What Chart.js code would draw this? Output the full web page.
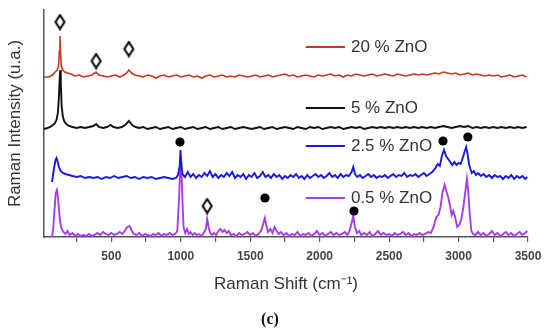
<!DOCTYPE html>
<html>
<head>
<meta charset="utf-8">
<script src="https://cdn.jsdelivr.net/npm/chart.js@4.4.1/dist/chart.umd.min.js"></script>
<style>
  body { margin: 0; background: #fff; }
  canvas { display: block; }
</style>
</head>
<body>
<canvas id="ramanChart" width="550" height="334"></canvas>
<script>
// Raman spectra, [shift cm-1, intensity above the trace's own baseline]
const seriesLabels = ['20 % ZnO', '5 % ZnO', '2.5 % ZnO', '0.5 % ZnO'];
const seriesColors = ['#c8361f', '#111111', '#1818e0', '#a83ce8'];
const baselineOffsets = [161, 109, 59, 0];

const spec20 = [[15,-1],[50,-1],[75,1],[95,4],[110,6],[120,10],[126,25],[130,40],[134,24],[140,10],[150,6],[165,4],[185,3],[210,2],[240,0],[270,1],[300,-1],[330,0],[360,1],[390,4],[410,1],[440,0],[470,-1],[500,0],[530,1],[560,-1],[590,1],[610,3],[626,6],[645,3],[670,1],[700,0],[730,-1],[760,1],[790,0],[820,-2],[850,0],[880,1],[910,-1],[940,0],[970,1],[1000,-1],[1030,0],[1060,1],[1090,-1],[1120,0],[1150,-2],[1180,0],[1210,1],[1240,-1],[1270,0],[1300,1],[1330,-1],[1360,0],[1390,-1],[1420,1],[1450,0],[1480,-1],[1510,0],[1540,1],[1570,-1],[1600,0],[1630,1],[1660,-1],[1690,0],[1720,1],[1750,2],[1780,0],[1810,1],[1840,-1],[1870,0],[1900,1],[1930,0],[1960,-1],[1990,1],[2020,0],[2050,1],[2080,2],[2110,0],[2140,1],[2170,-1],[2200,1],[2230,0],[2260,2],[2290,1],[2320,0],[2350,1],[2380,2],[2410,0],[2440,1],[2470,2],[2500,1],[2530,0],[2560,2],[2590,1],[2620,0],[2650,1],[2680,2],[2710,1],[2740,2],[2770,1],[2800,2],[2830,3],[2860,2],[2890,4],[2920,3],[2950,2],[2980,3],[3010,1],[3040,2],[3070,3],[3100,1],[3130,2],[3160,1],[3190,0],[3220,1],[3250,0],[3280,1],[3310,-1],[3340,0],[3370,1],[3400,-1],[3430,0],[3460,1],[3490,-1]];

const spec5 = [[15,-1],[40,0],[60,1],[80,3],[95,5],[105,8],[115,15],[122,30],[128,50],[132,58],[136,45],[142,22],[150,12],[160,7],[175,4],[195,2],[220,1],[250,0],[280,1],[310,0],[340,1],[370,2],[390,4],[410,1],[440,0],[470,1],[495,3],[515,1],[545,0],[575,1],[600,3],[626,7],[650,3],[675,1],[700,0],[730,1],[760,-1],[790,0],[820,1],[850,-1],[880,0],[910,1],[940,-1],[970,0],[1000,1],[1030,-1],[1060,0],[1090,1],[1120,-1],[1150,0],[1180,1],[1210,-1],[1240,0],[1270,1],[1300,-1],[1330,0],[1360,1],[1390,-1],[1420,0],[1450,1],[1480,0],[1510,-1],[1540,0],[1570,1],[1600,-1],[1630,0],[1660,1],[1690,-1],[1720,0],[1750,1],[1780,0],[1810,-1],[1840,1],[1870,0],[1900,-1],[1930,1],[1960,0],[1990,1],[2020,-1],[2050,0],[2080,1],[2110,0],[2140,1],[2170,-1],[2200,0],[2230,1],[2260,0],[2290,1],[2320,-1],[2350,0],[2380,1],[2410,0],[2440,1],[2470,0],[2500,1],[2530,0],[2560,1],[2590,0],[2620,1],[2650,0],[2680,1],[2710,0],[2740,1],[2770,0],[2800,1],[2830,0],[2860,1],[2890,2],[2920,1],[2950,0],[2980,1],[3010,2],[3040,1],[3070,2],[3100,0],[3130,1],[3160,0],[3190,1],[3220,0],[3250,1],[3280,0],[3310,1],[3340,0],[3370,1],[3400,0],[3430,1],[3460,0],[3490,1]];

const spec25 = [[73,-4],[85,8],[98,18],[105,20],[112,17],[122,11],[135,7],[150,5],[170,4],[195,3],[220,2],[250,1],[280,2],[310,0],[340,1],[370,0],[400,1],[430,-1],[460,1],[490,0],[520,2],[550,0],[580,1],[610,2],[640,0],[670,1],[700,-1],[730,1],[760,0],[790,1],[820,-1],[850,0],[880,1],[910,0],[940,-1],[965,0],[980,3],[992,12],[998,28],[1004,14],[1012,4],[1030,1],[1050,6],[1070,1],[1090,4],[1110,0],[1130,3],[1150,1],[1170,5],[1190,2],[1210,7],[1230,1],[1250,4],[1270,0],[1290,3],[1310,1],[1330,5],[1350,2],[1370,6],[1390,0],[1410,3],[1430,1],[1450,4],[1470,-1],[1490,3],[1510,1],[1530,5],[1550,0],[1570,2],[1590,6],[1610,1],[1630,3],[1650,0],[1670,4],[1690,1],[1710,3],[1730,-1],[1750,2],[1770,0],[1790,3],[1810,1],[1830,4],[1850,0],[1870,2],[1890,-1],[1910,3],[1930,0],[1950,2],[1970,4],[1990,1],[2010,3],[2030,0],[2050,2],[2070,5],[2090,1],[2110,3],[2130,0],[2150,4],[2170,1],[2190,3],[2210,2],[2230,6],[2242,11],[2254,4],[2270,1],[2290,3],[2310,0],[2330,2],[2350,4],[2370,1],[2390,3],[2410,0],[2430,2],[2450,1],[2470,3],[2490,0],[2510,2],[2530,4],[2550,1],[2570,3],[2590,2],[2610,5],[2630,1],[2650,3],[2670,2],[2690,4],[2710,1],[2730,3],[2750,5],[2770,2],[2790,4],[2810,6],[2830,9],[2850,14],[2865,12],[2880,22],[2895,28],[2910,22],[2925,19],[2940,16],[2955,13],[2970,16],[2985,13],[3000,15],[3015,14],[3030,20],[3045,27],[3055,31],[3065,24],[3075,14],[3085,9],[3095,5],[3110,7],[3125,3],[3140,5],[3160,2],[3180,4],[3200,1],[3220,3],[3240,0],[3260,3],[3280,1],[3300,2],[3320,-1],[3340,2],[3360,0],[3380,3],[3400,-1],[3420,2],[3440,0],[3460,2],[3480,-1],[3495,1]];

const spec05 = [[73,0],[82,10],[92,30],[100,44],[108,47],[116,40],[124,25],[132,14],[142,8],[155,5],[170,3],[185,6],[200,2],[220,4],[240,1],[260,3],[280,1],[300,2],[320,1],[340,3],[360,1],[380,2],[400,4],[420,2],[440,5],[460,3],[480,2],[500,4],[520,2],[540,3],[560,5],[580,3],[600,7],[615,10],[630,11],[645,7],[660,3],[680,2],[700,4],[720,1],[740,3],[760,2],[780,1],[800,3],[820,2],[840,4],[860,1],[880,3],[900,2],[920,4],[940,2],[960,3],[975,6],[988,40],[996,70],[1004,72],[1012,35],[1020,10],[1032,4],[1045,8],[1058,3],[1070,5],[1085,2],[1100,4],[1115,2],[1130,3],[1150,1],[1165,4],[1180,8],[1190,18],[1200,10],[1212,4],[1225,2],[1240,4],[1255,2],[1270,6],[1285,8],[1300,5],[1315,7],[1330,4],[1345,6],[1360,2],[1380,3],[1400,1],[1420,4],[1440,2],[1460,3],[1480,5],[1500,2],[1520,4],[1540,1],[1560,3],[1580,7],[1595,14],[1605,19],[1615,12],[1628,5],[1645,8],[1660,4],[1675,10],[1690,6],[1705,3],[1720,5],[1740,2],[1760,4],[1780,1],[1800,3],[1820,2],[1840,5],[1860,1],[1880,3],[1900,2],[1920,4],[1940,1],[1960,3],[1980,6],[2000,2],[2020,4],[2040,1],[2060,3],[2080,5],[2100,2],[2120,4],[2140,2],[2160,3],[2180,5],[2200,2],[2215,6],[2230,14],[2242,21],[2254,10],[2268,4],[2285,6],[2300,2],[2320,4],[2340,2],[2360,5],[2380,1],[2400,3],[2420,6],[2440,2],[2460,4],[2480,2],[2500,3],[2520,1],[2540,4],[2560,2],[2580,3],[2600,5],[2620,2],[2640,4],[2660,1],[2680,3],[2700,2],[2720,4],[2740,2],[2760,3],[2780,5],[2800,4],[2820,10],[2840,20],[2855,22],[2870,30],[2885,45],[2900,52],[2912,46],[2925,40],[2938,32],[2950,22],[2962,26],[2975,20],[2990,10],[3005,12],[3020,18],[3035,30],[3048,45],[3060,58],[3070,45],[3080,24],[3092,6],[3105,3],[3120,2],[3140,5],[3160,2],[3180,4],[3200,1],[3220,3],[3240,6],[3260,2],[3280,4],[3300,1],[3320,3],[3340,5],[3360,2],[3380,4],[3400,1],[3420,3],[3440,5],[3460,2],[3480,4],[3495,6]];

const spectra = [spec20, spec5, spec25, spec05];

// peak markers: diamonds (ZnO) and dots
const diamondMarks = [[130,215],[390,176],[626,188],[1190,31]];
const circleMarks = [[994,95],[2888,96],[3067,100],[1606,39],[2247,26]];

// x axis ticks, only the 500 steps are labelled
const shiftTicks = [250,500,750,1000,1250,1500,1750,2000,2250,2500,2750,3000,3250,3500];

const FONT = '"Liberation Sans", Arial, sans-serif';

// hollow tall diamond for pointStyle
function makeDiamond() {
    const c = document.createElement('canvas');
    c.width = 13; c.height = 17;
    const g = c.getContext('2d');
    g.beginPath();
    g.moveTo(6.5, 1.5);
    g.lineTo(11, 8.5);
    g.lineTo(6.5, 15.5);
    g.lineTo(2, 8.5);
    g.closePath();
    g.fillStyle = '#fff';
    g.fill();
    g.lineWidth = 2;
    g.strokeStyle = '#000';
    g.stroke();
    return c;
}

const lineSets = spectra.map((spec, i) => ({
    label: seriesLabels[i],
    data: spec.map(p => ({ x: p[0], y: p[1] + baselineOffsets[i] })),
    borderColor: seriesColors[i],
    borderWidth: i === 0 ? 1.6 : 1.9,
    pointRadius: 0,
    tension: 0,
    order: i + 2
}));

const markSets = [
    {
        label: 'diamonds',
        data: diamondMarks.map(p => ({ x: p[0], y: p[1] })),
        showLine: false,
        pointStyle: makeDiamond(),
        order: 0
    },
    {
        label: 'dots',
        data: circleMarks.map(p => ({ x: p[0], y: p[1] })),
        showLine: false,
        pointStyle: 'circle',
        pointRadius: 4.6,
        pointBackgroundColor: '#000',
        pointBorderWidth: 0,
        order: 1
    }
];

// in-plot legend rows next to each trace, plus the panel letter
const legendAnnot = {
    id: 'legendAnnot',
    afterDraw(chart) {
        const ctx = chart.ctx;
        const xs = chart.scales.x, ys = chart.scales.y;
        const rowY = [190, 129, 91, 39];
        ctx.save();
        ctx.font = '17px ' + FONT;
        ctx.textBaseline = 'middle';
        rowY.forEach((v, i) => {
            const y = ys.getPixelForValue(v);
            ctx.strokeStyle = seriesColors[i];
            ctx.lineWidth = 2;
            ctx.beginPath();
            ctx.moveTo(xs.getPixelForValue(1900), y);
            ctx.lineTo(xs.getPixelForValue(2182), y);
            ctx.stroke();
            ctx.fillStyle = '#333';
            ctx.fillText(seriesLabels[i], xs.getPixelForValue(2225), y);
        });
        ctx.font = 'bold 16px "Liberation Serif", "Times New Roman", serif';
        ctx.textAlign = 'center';
        ctx.fillStyle = '#111';
        ctx.fillText('(c)', 270, 320);
        ctx.restore();
    }
};

new Chart(document.getElementById('ramanChart').getContext('2d'), {
    type: 'line',
    data: { datasets: lineSets.concat(markSets) },
    options: {
        responsive: false,
        animation: false,
        layout: { padding: { top: 10, right: 22, left: 0, bottom: 30 } },
        plugins: {
            legend: { display: false },
            tooltip: { enabled: false }
        },
        scales: {
            x: {
                type: 'linear',
                min: 15,
                max: 3500,
                afterBuildTicks: (scale) => {
                    scale.ticks = shiftTicks.map(v => ({ value: v }));
                },
                afterFit: (scale) => { scale.height = 67; },
                ticks: {
                    autoSkip: false,
                    maxRotation: 0,
                    padding: 7,
                    color: '#444',
                    font: { family: FONT, size: 12, weight: 'bold' },
                    callback: (v) => (v % 500 === 0 ? String(v) : '')
                },
                grid: {
                    display: true,
                    drawOnChartArea: false,
                    drawTicks: true,
                    tickLength: 5,
                    color: '#555',
                    lineWidth: 1.2
                },
                border: { display: true, color: '#555', width: 1.5 },
                title: {
                    display: true,
                    text: 'Raman Shift (cm\u207B\u00B9)',
                    color: '#333',
                    font: { family: FONT, size: 17 },
                    padding: { top: 0, bottom: 9 }
                }
            },
            y: {
                type: 'linear',
                min: 0,
                max: 227,
                afterFit: (scale) => { scale.width = 44; },
                ticks: { display: false },
                grid: { display: false },
                border: { display: true, color: '#555', width: 1.5 },
                title: {
                    display: true,
                    text: 'Raman Intensity (u.a.)',
                    color: '#333',
                    font: { family: FONT, size: 17 },
                    padding: { top: 5, bottom: 0 }
                }
            }
        }
    },
    plugins: [legendAnnot]
});
</script>
</body>
</html>
